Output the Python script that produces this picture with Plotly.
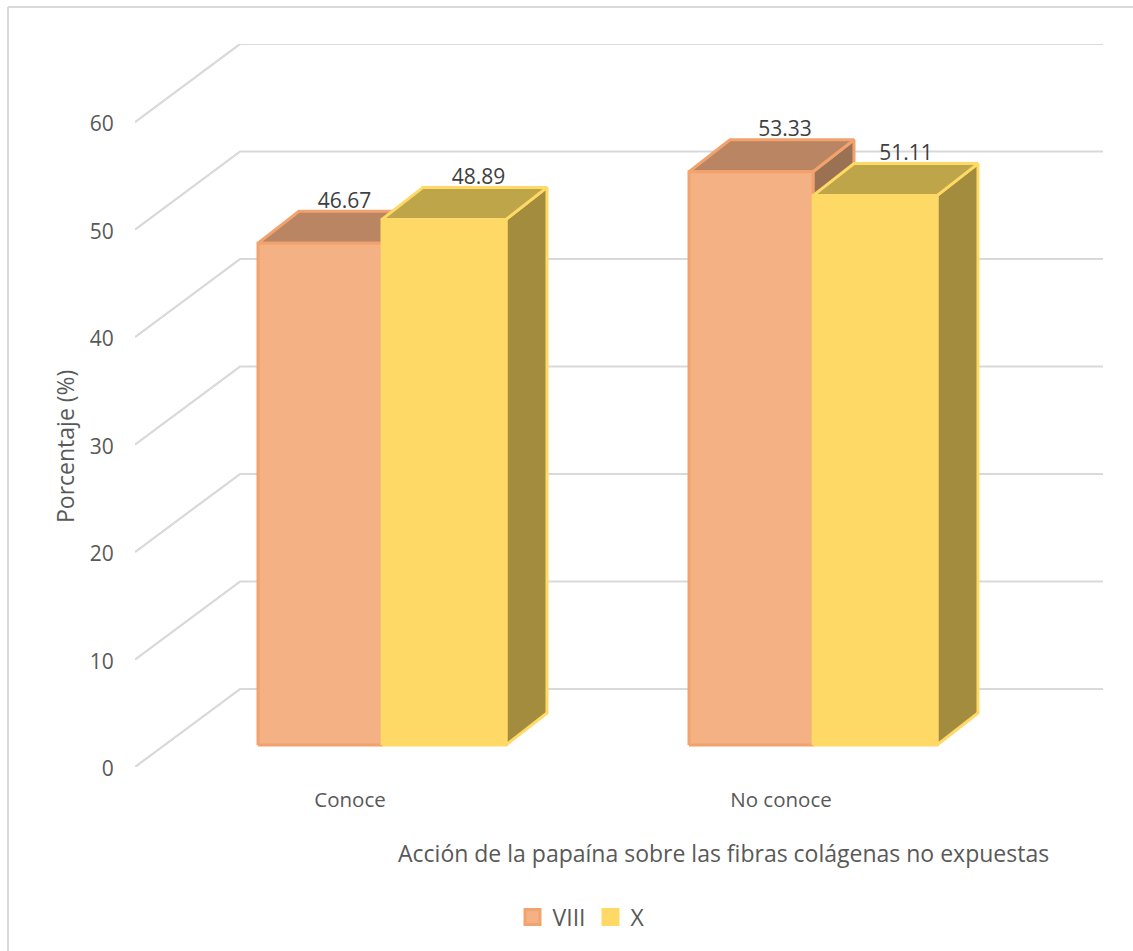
import plotly.graph_objects as go

# ---- data ----
categories = ["Conoce", "No conoce"]
series_names = ["VIII", "X"]
values_viii = [46.67, 53.33]
values_x = [48.89, 51.11]
y_ticks = [0, 10, 20, 30, 40, 50, 60]
y_title = "Porcentaje (%)"
x_title = "Acción de la papaína sobre las fibras colágenas no expuestas"

# ---- style ----
W, H = 1133, 951
L, R, T, B = 135, 1103, 44, 767
PX_PER_CAT = 431.0
PX_PER_UNIT = 10.75
FONT = "Open Sans, sans-serif"
TXT = "#595959"
GRID = "#D9D9D9"

palette = {
    "VIII": dict(front="#F4B183", edge="#F2A26E", top="#B98562", side="#9B7153"),
    "X": dict(front="#FFD966", edge="#FFD966", top="#BFA549", side="#A38C3D"),
}

x0 = -215 / PX_PER_CAT
x_range = [x0, x0 + (R - L) / PX_PER_CAT]
y_range = [0, (B - T) / PX_PER_UNIT]

wall_dx = 105 / PX_PER_CAT
wall_dy = 78 / PX_PER_UNIT
bar_dx = 41 / PX_PER_CAT
bar_dy = 32 / PX_PER_UNIT
floor_y = 22 / PX_PER_UNIT
group_shift = 32 / PX_PER_CAT
bar_w = 124 / PX_PER_CAT

fig = go.Figure()

# walls / gridlines
for t in y_ticks:
    fig.add_trace(go.Scatter(
        x=[x_range[0], x_range[0] + wall_dx, x_range[1]],
        y=[t, t + wall_dy, t + wall_dy],
        mode="lines", line=dict(color=GRID, width=2.2),
        hoverinfo="skip", showlegend=False))


def face(xs, ys, fill, edge, width=3):
    fig.add_trace(go.Scatter(
        x=xs + xs[:1], y=ys + ys[:1], mode="lines", fill="toself",
        fillcolor=fill, line=dict(color=edge, width=width),
        hoverinfo="skip", showlegend=False))


label_x, label_y, label_text = [], [], []
label_nudge = {(0, 0): 24.5, (0, 1): 34.5, (1, 0): 34, (1, 1): 31}

for c in range(len(categories)):
    for s, (name, vals) in enumerate(zip(series_names, [values_viii, values_x])):
        p = palette[name]
        v = vals[c]
        xl = c + group_shift + (s - 1) * bar_w
        xr = xl + bar_w
        yb = floor_y
        yt = floor_y + v
        # side, top, front
        face([xr, xr + bar_dx, xr + bar_dx, xr],
             [yb, yb + bar_dy, yt + bar_dy, yt], p["side"], p["edge"])
        face([xl, xl + bar_dx, xr + bar_dx, xr],
             [yt, yt + bar_dy, yt + bar_dy, yt], p["top"], p["edge"])
        face([xl, xr, xr, xl], [yb, yb, yt, yt], p["front"], p["edge"])
        label_x.append((xl + xr) / 2 + label_nudge[(c, s)] / PX_PER_CAT)
        label_y.append(yt + 41 / PX_PER_UNIT)
        label_text.append(f"{v:.2f}")

fig.add_trace(go.Scatter(
    x=label_x, y=label_y, text=label_text, mode="text",
    textposition="middle center",
    textfont=dict(family=FONT, size=21, color="#404040"),
    hoverinfo="skip", showlegend=False))

# legend keys
for name in series_names:
    p = palette[name]
    fig.add_trace(go.Scatter(
        x=[None], y=[None], mode="markers", name=name,
        marker=dict(symbol="square", size=15, color=p["front"],
                    line=dict(color=p["edge"], width=3))))

fig.update_layout(
    width=W, height=H,
    margin=dict(l=L, r=W - R, t=T, b=H - B),
    paper_bgcolor="white", plot_bgcolor="white",
    font=dict(family=FONT, size=20, color=TXT),
    xaxis=dict(range=x_range, tickmode="array", tickvals=[0, 1], ticktext=categories,
               showgrid=False, zeroline=False, showline=False, ticks="outside",
               ticklen=14, tickcolor="rgba(0,0,0,0)", tickfont=dict(size=20.5)),
    yaxis=dict(range=y_range, tickmode="array", tickvals=y_ticks,
               showgrid=False, zeroline=False, showline=False, ticks="outside",
               ticklen=16, tickcolor="rgba(0,0,0,0)", tickfont=dict(size=21),
               ticklabelshift=2),
    legend=dict(orientation="h", x=(581 - L) / (R - L), xanchor="center",
                y=(B - 917) / (B - T), yanchor="middle",
                xref="paper", font=dict(size=23), itemwidth=30),
    annotations=[
        dict(text=x_title, xref="paper", yref="paper", showarrow=False,
             x=(723 - L) / (R - L), y=-(853 - B) / (B - T),
             xanchor="center", yanchor="middle", font=dict(size=23, color=TXT)),
        dict(text=y_title, xref="paper", yref="paper", showarrow=False, textangle=-90,
             x=(65 - L) / (R - L), y=(B - 447) / (B - T),
             xanchor="center", yanchor="middle", font=dict(size=23, color=TXT)),
    ],
    shapes=[
        dict(type="line", xref="paper", yref="paper",
             x0=(8 - L) / (R - L), x1=(W - L) / (R - L),
             y0=(B - 7) / (B - T), y1=(B - 7) / (B - T),
             line=dict(color=GRID, width=2)),
        dict(type="line", xref="paper", yref="paper",
             x0=(8 - L) / (R - L), x1=(8 - L) / (R - L),
             y0=(B - 7) / (B - T), y1=(B - H) / (B - T),
             line=dict(color=GRID, width=2)),
    ],
)

fig.write_html("out.html", config=dict(displayModeBar=False),
               post_script="document.body.style.margin='0';document.documentElement.style.overflow='hidden';")
